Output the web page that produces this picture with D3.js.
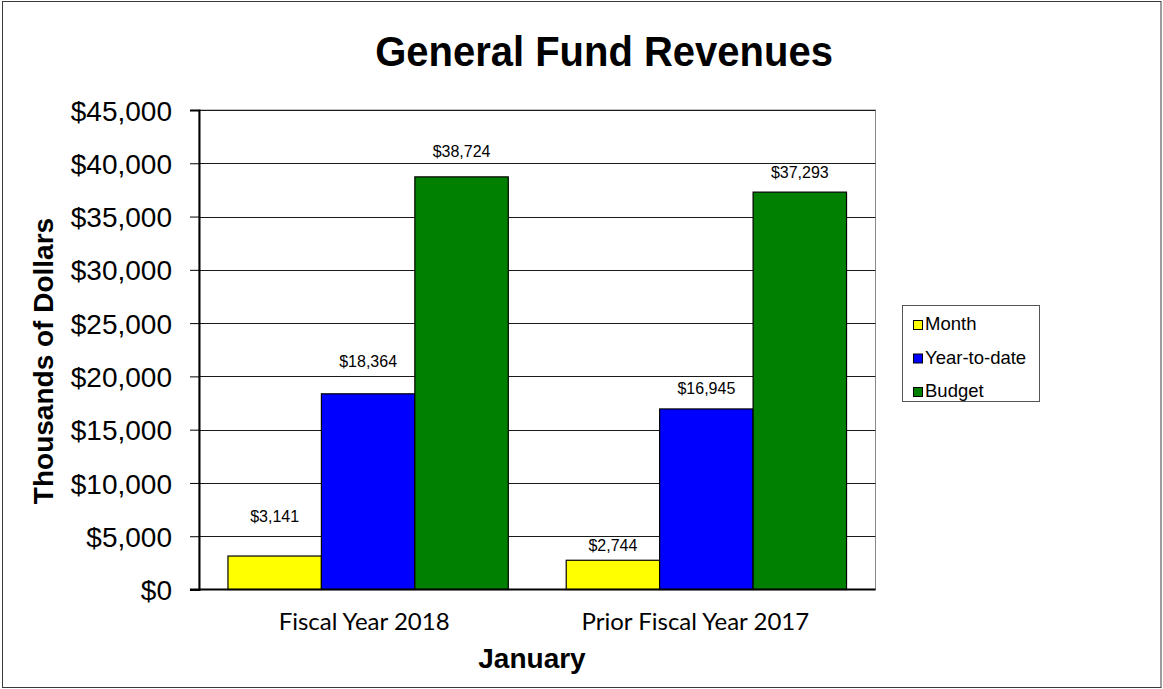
<!DOCTYPE html>
<html>
<head>
<meta charset="utf-8">
<script src="https://cdn.jsdelivr.net/npm/d3@7"></script>
<style>
  html, body { margin: 0; padding: 0; background: #fff; }
  svg { display: block; }
  text { font-family: "Liberation Sans", Arial, sans-serif; fill: #000; }
</style>
</head>
<body>
<svg id="chart" width="1163" height="689"></svg>
<script>
// Chart data
const categories = ["Fiscal Year 2018", "Prior Fiscal Year 2017"];
const seriesNames = ["Month", "Year-to-date", "Budget"];
const monthValues = [3141, 2744];
const ytdValues = [18364, 16945];
const budgetValues = [38724, 37293];
const yTickValues = [0, 5000, 10000, 15000, 20000, 25000, 30000, 35000, 40000, 45000];

// Styling
const seriesColors = ["#ffff00", "#0000ff", "#008000"];
// extra space between each value label and the top of its bar, per category / series
const labelLift = [[34, 27, 20], [9, 15, 14]];
// horizontal nudge of each category label from its band centre
const categoryNudge = [-4, -11];

const svg = d3.select("#chart");
const W = 1163, H = 689;
const plot = { left: 199, right: 875.5, top: 110, bottom: 589.5 };

const valuesBySeries = [monthValues, ytdValues, budgetValues];
const rows = categories.map((c, i) => ({
  category: c,
  values: seriesNames.map((s, j) => ({ series: s, value: valuesBySeries[j][i], ci: i, si: j }))
}));

// Outer frame
svg.append("rect")
  .attr("x", 2.5).attr("y", 1.5).attr("width", W - 4.5).attr("height", H - 3)
  .attr("fill", "#fff").attr("stroke", "#3a3a3a").attr("stroke-width", 1);

const x0 = d3.scaleBand().domain(categories).range([plot.left, plot.right]).padding(0);
const x1 = d3.scaleBand().domain(seriesNames).range([0, x0.bandwidth()])
  .paddingInner(0).paddingOuter(0.31);
const y = d3.scaleLinear().domain([0, 45000]).range([plot.bottom, plot.top]);
const color = d3.scaleOrdinal().domain(seriesNames).range(seriesColors);

// Plot area border
svg.append("rect")
  .attr("x", plot.left).attr("y", plot.top)
  .attr("width", plot.right - plot.left).attr("height", plot.bottom - plot.top)
  .attr("fill", "none").attr("stroke", "#8a8a8a").attr("stroke-width", 1);

// Gridlines
svg.append("g")
  .selectAll("line")
  .data(yTickValues.filter(v => v > 0))
  .join("line")
  .attr("x1", plot.left).attr("x2", plot.right)
  .attr("y1", d => Math.round(y(d)) + 0.5).attr("y2", d => Math.round(y(d)) + 0.5)
  .attr("stroke", "#1a1a1a").attr("stroke-width", 1);

// Bars
const groups = svg.append("g").selectAll("g")
  .data(rows)
  .join("g")
  .attr("transform", d => `translate(${x0(d.category)},0)`);

groups.selectAll("rect")
  .data(d => d.values)
  .join("rect")
  .attr("x", d => x1(d.series))
  .attr("y", d => y(d.value))
  .attr("width", x1.bandwidth())
  .attr("height", d => y(0) - y(d.value))
  .attr("fill", d => color(d.series))
  .attr("stroke", "#000").attr("stroke-width", 1.2);

// Value labels
const fmt = d3.format("$,");
groups.selectAll("text")
  .data(d => d.values)
  .join("text")
  .attr("x", d => x1(d.series) + x1.bandwidth() / 2)
  .attr("y", d => y(d.value) - labelLift[d.ci][d.si])
  .attr("text-anchor", "middle")
  .style("font-size", "16px")
  .text(d => fmt(d.value));

// Y axis
const yAxis = d3.axisLeft(y).tickValues(yTickValues).tickFormat(fmt).tickSize(9).tickPadding(18);
const yg = svg.append("g").attr("transform", `translate(${plot.left},0)`).call(yAxis);
yg.select(".domain").attr("stroke", "#000").attr("stroke-width", 2);
yg.selectAll(".tick line").attr("stroke", "#000").attr("stroke-width", 1);
yg.selectAll(".tick text")
  .style("font-family", "'Liberation Sans', Arial, sans-serif")
  .style("font-size", "28px").attr("dy", "0.36em");

// X axis baseline
svg.append("line")
  .attr("x1", plot.left - 9).attr("x2", plot.right)
  .attr("y1", plot.bottom).attr("y2", plot.bottom)
  .attr("stroke", "#000").attr("stroke-width", 2);

// Category labels
svg.append("g").selectAll("text")
  .data(categories)
  .join("text")
  .attr("x", (d, i) => x0(d) + x0.bandwidth() / 2 + categoryNudge[i])
  .attr("y", 630)
  .attr("text-anchor", "middle")
  .style("font-family", "Lato, 'Open Sans', sans-serif")
  .style("font-size", "24px")
  .text(d => d);

// Title
svg.append("text")
  .attr("transform", "translate(604,66) scale(1,1.07)")
  .attr("text-anchor", "middle")
  .style("font-size", "40px").style("font-weight", "bold")
  .text("General Fund Revenues");

// Axis titles
svg.append("text")
  .attr("x", 532).attr("y", 668)
  .attr("text-anchor", "middle")
  .style("font-size", "28px").style("font-weight", "bold")
  .text("January");

svg.append("text")
  .attr("transform", "translate(53,361) rotate(-90)")
  .attr("text-anchor", "middle")
  .style("font-size", "28px").style("font-weight", "bold")
  .text("Thousands of Dollars");

// Legend
const legend = svg.append("g");
legend.append("rect")
  .attr("x", 902.5).attr("y", 305.5).attr("width", 137).attr("height", 96)
  .attr("fill", "#fff").attr("stroke", "#555").attr("stroke-width", 1);
const items = legend.selectAll("g.item")
  .data(seriesNames)
  .join("g").attr("class", "item")
  .attr("transform", (d, i) => `translate(913, ${320 + i * 33.5})`);
items.append("rect")
  .attr("x", 0.5).attr("y", 0.5).attr("width", 9).attr("height", 9)
  .attr("fill", d => color(d)).attr("stroke", "#000").attr("stroke-width", 1);
items.append("text")
  .attr("x", 12).attr("y", 10)
  .style("font-size", "18.5px")
  .text(d => d);
</script>
</body>
</html>
